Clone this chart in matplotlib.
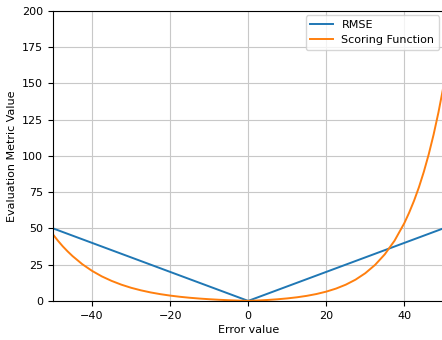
import matplotlib
matplotlib.use("Agg")
import matplotlib.pyplot as plt

# Data
rmse_x = [-50, 0, 50]
rmse_y = [50, 0, 50]

score_x = [-50, -48.75, -47.5, -46.25, -45, -42.5, -40, -37.5, -35, -32.5, -30, -27.5, -25,
           -22.5, -20, -17.5, -15, -12.5, -10, -7.5, -5, -2.5, 0,
           2.5, 5, 7.5, 10, 12.5, 15, 17.5, 20, 22.5, 25,
           27.5, 30, 32.5, 35, 37.5, 40, 41.25, 42.5, 43.75, 45, 46.25, 47.5, 48.75, 50]
score_y = [45.8, 41.5, 37.6, 34.1, 30.9, 25.3, 20.7, 16.9, 13.8, 11.2, 9.05, 7.3, 5.84,
           4.65, 3.66, 2.84, 2.17, 1.62, 1.16, 0.78, 0.47, 0.21, 0.0,
           0.28, 0.65, 1.12, 1.72, 2.49, 3.48, 4.75, 6.39, 8.49, 11.18,
           14.64, 19.09, 24.79, 32.12, 41.52, 53.6, 60.9, 69.1, 78.4, 89.0, 101.0, 114.6, 130.0, 147.4]

plt.rcParams['font.family'] = ['DejaVu Sans']
plt.rcParams['font.size'] = 8

fig = plt.figure(figsize=(4.42, 3.40), dpi=100)
ax = fig.add_axes([0.12, 0.115, 0.883, 0.853])
ax.plot(rmse_x, rmse_y, color='#1f77b4', lw=1.4, label='RMSE')
ax.plot(score_x, score_y, color='#ff7f0e', lw=1.4, label='Scoring Function')
ax.set_xlim(-50, 50)
ax.set_ylim(0, 200)
ax.set_xticks([-40, -20, 0, 20, 40])
ax.set_yticks([0, 25, 50, 75, 100, 125, 150, 175, 200])
ax.grid(True, color='#c8c8c8', lw=0.8)
ax.set_axisbelow(True)
ax.set_xlabel('Error value', labelpad=3)
ax.set_ylabel('Evaluation Metric Value')
ax.legend(loc='upper right', borderaxespad=0.4)
fig.savefig('out.png', dpi=100)
